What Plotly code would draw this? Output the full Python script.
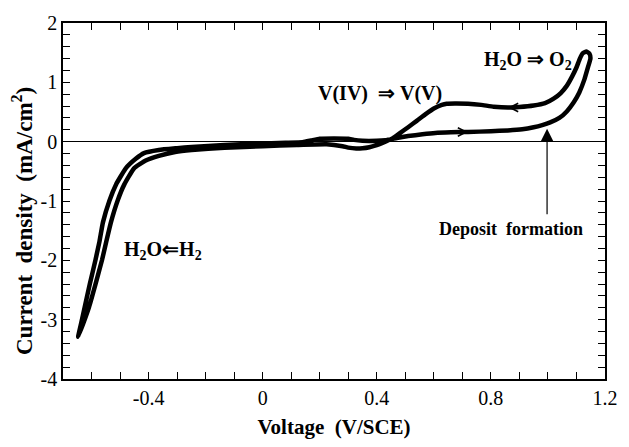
import plotly.graph_objects as go

# Forward (positive-going) scan: from cathodic tip up to the O2 evolution tip
V_fwd = [-0.647, -0.636, -0.624, -0.606, -0.586, -0.572, -0.56, -0.537, -0.514, -0.48,
         -0.445, -0.416, -0.364, -0.30, -0.249, -0.134, -0.018, 0.08, 0.14, 0.17,
         0.20, 0.25, 0.30, 0.32, 0.35, 0.40, 0.43, 0.47, 0.51, 0.56,
         0.605, 0.66, 0.72, 0.80, 0.86, 0.91, 0.95, 0.98, 1.008, 1.04,
         1.066, 1.09, 1.11, 1.128, 1.142, 1.149, 1.146, 1.135]
J_fwd = [-3.29, -3.05, -2.79, -2.40, -1.99, -1.68, -1.36, -0.99, -0.72, -0.45,
         -0.29, -0.194, -0.141, -0.11, -0.088, -0.056, -0.034, -0.02, -0.01, 0.02,
         0.05, 0.055, 0.05, 0.03, 0.015, 0.015, 0.025, 0.06, 0.094, 0.125,
         0.148, 0.158, 0.164, 0.175, 0.19, 0.21, 0.244, 0.28, 0.324, 0.40,
         0.51, 0.66, 0.83, 1.05, 1.28, 1.40, 1.48, 1.52]

# Reverse (negative-going) scan: from the O2 tip back down to the cathodic tip
V_rev = [1.122, 1.112, 1.100, 1.085, 1.066, 1.045, 1.02, 0.99, 0.95, 0.90,
         0.86, 0.81, 0.766, 0.72, 0.674, 0.645, 0.628, 0.60, 0.57, 0.54,
         0.51, 0.48, 0.455, 0.42, 0.40, 0.374, 0.35, 0.328, 0.30, 0.28,
         0.224, 0.12, 0.0, -0.134, -0.249, -0.307, -0.364, -0.41, -0.451, -0.485,
         -0.508, -0.532, -0.548, -0.563, -0.586, -0.609, -0.628, -0.647]
J_rev = [1.49, 1.40, 1.25, 1.10, 0.94, 0.82, 0.725, 0.65, 0.61, 0.585,
         0.576, 0.59, 0.62, 0.64, 0.645, 0.64, 0.62, 0.56, 0.46, 0.35,
         0.244, 0.14, 0.056, -0.02, -0.06, -0.093, -0.11, -0.114, -0.10, -0.077,
         -0.045, -0.056, -0.077, -0.104, -0.141, -0.173, -0.238, -0.318, -0.45, -0.72,
         -0.987, -1.36, -1.68, -1.99, -2.40, -2.79, -3.05, -3.29]

# Scan direction markers on the curve
DIR_V = [0.86, 0.72]
DIR_J = [0.576, 0.164]
DIR_SIGN = [-1, 1]   # -1: pointing to negative voltage, +1: positive

# "Deposit formation" pointer
DEP_V = 0.997
DEP_J_TIP = 0.217
DEP_J_TAIL = -1.25

X_TICKS = [-0.4, 0, 0.4, 0.8, 1.2]
X_TICKTEXT = ["-0.4", "0", "0.4", "0.8", "1.2"]
Y_TICKS = [-4, -3, -2, -1, 0, 1, 2]
Y_TICKTEXT = ["-4", "-3", "-2", "-1", "0", "1", "2"]

SERIF = "Liberation Serif, Times New Roman, serif"
NB = "\u00a0"

fig = go.Figure()
fig.add_trace(go.Scatter(
    x=V_fwd + V_rev, y=J_fwd + J_rev, mode="lines",
    line=dict(color="black", width=4.5, shape="spline", smoothing=0.4),
    hoverinfo="skip", showlegend=False))

annotations = []
for v, j, s in zip(DIR_V, DIR_J, DIR_SIGN):
    annotations.append(dict(
        x=v, y=j, xref="x", yref="y", text="", showarrow=True,
        ax=-s * 14, ay=0, arrowhead=5, arrowsize=1.1, arrowwidth=1.5,
        arrowcolor="black"))

annotations.append(dict(
    x=DEP_V, y=DEP_J_TIP, xref="x", yref="y", text="", showarrow=True,
    axref="x", ayref="y", ax=DEP_V, ay=DEP_J_TAIL,
    arrowhead=2, arrowsize=2.2, arrowwidth=1.2, arrowcolor="black"))

bold = dict(family=SERIF, size=20, color="black")
annotations += [
    dict(x=0.87, y=-1.48, xref="x", yref="y", showarrow=False,
         text="<b>Deposit" + NB * 2 + "formation</b>",
         font=dict(family=SERIF, size=18, color="black")),
    dict(x=0.93, y=1.37, xref="x", yref="y", showarrow=False,
         text="<b>H<sub>2</sub>O" + NB + "\u21d2" + NB + "O<sub>2</sub></b>", font=bold),
    dict(x=0.41, y=0.806, xref="x", yref="y", showarrow=False,
         text="<b>V(IV)" + NB * 2 + "\u21d2" + NB + "V(V)</b>", font=bold),
    dict(x=-0.35, y=-1.84, xref="x", yref="y", showarrow=False,
         text="<b>H<sub>2</sub>O\u21d0H<sub>2</sub></b>", font=bold),
    # y-axis title
    dict(x=0, y=0.5, xref="paper", yref="paper", showarrow=False,
         xanchor="center", yanchor="middle", xshift=-41, yshift=-20,
         textangle=-90,
         text="<b>Current" + NB * 2 + "density" + NB * 2 + "(mA/cm<sup>2</sup>)</b>",
         font=dict(family=SERIF, size=23, color="black")),
]

axis_common = dict(
    showline=True, linecolor="black", linewidth=1.5, mirror="ticks",
    ticks="inside", ticklen=7, tickwidth=1.2, tickcolor="black",
    showgrid=False, tickfont=dict(family=SERIF, size=20, color="black"),
)

fig.update_layout(
    width=629, height=447,
    margin=dict(l=63, r=17, t=20, b=53),
    paper_bgcolor="white", plot_bgcolor="white",
    annotations=annotations,
    xaxis=dict(
        range=[-0.7, 1.2001], tickvals=X_TICKS, ticktext=X_TICKTEXT,
        minor=dict(dtick=0.1, tick0=0, ticks="inside", ticklen=7, tickwidth=1.2,
                   tickcolor="black", showgrid=False),
        zeroline=False,
        title=dict(text="<b>Voltage" + NB * 2 + "(V/SCE)</b>",
                   font=dict(family=SERIF, size=21, color="black"), standoff=12),
        **axis_common),
    yaxis=dict(
        range=[-4, 2], tickvals=Y_TICKS, ticktext=Y_TICKTEXT,
        minor=dict(dtick=0.2, tick0=0, ticks="inside", ticklen=7, tickwidth=1.2,
                   tickcolor="black", showgrid=False),
        zeroline=True, zerolinecolor="black", zerolinewidth=1.2,
        **axis_common),
)

fig.write_html("out.html")
